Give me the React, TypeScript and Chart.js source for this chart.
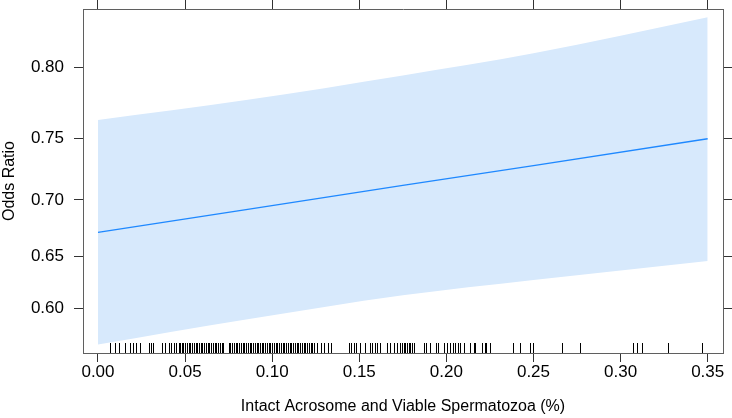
import React, { useEffect, useRef } from "react";
import { Chart, registerables } from "chart.js";

Chart.register(...registerables);

// ---- data ----
const xGrid = [0, 0.085, 0.175, 0.25, 0.35];
const fitValues = [0.6715, 0.6917, 0.7123, 0.7285, 0.7495];
const upperValues = [0.7635, 0.7779, 0.7947, 0.809, 0.8306];
const lowerValues = [0.5644, 0.5892, 0.6129, 0.6276, 0.6455];

const xTickValues = [0, 0.05, 0.1, 0.15, 0.2, 0.25, 0.3, 0.35];
const xTickLabels = ["0.00", "0.05", "0.10", "0.15", "0.20", "0.25", "0.30", "0.35"];
const yTickValues = [0.6, 0.65, 0.7, 0.75, 0.8];
const yTickLabels = ["0.60", "0.65", "0.70", "0.75", "0.80"];

const rugValues = [
  0.007, 0.0095, 0.012, 0.0157, 0.0185, 0.0201, 0.0216, 0.0239, 0.0291, 0.0304, 0.0316,
  0.0367, 0.0386, 0.0405, 0.0419, 0.0434, 0.0449, 0.0463, 0.0472, 0.0482,
  0.049, 0.05, 0.051, 0.052, 0.053, 0.054, 0.055, 0.056, 0.057, 0.058, 0.059, 0.06, 0.061,
  0.062, 0.063, 0.064, 0.065, 0.066, 0.067, 0.068, 0.069, 0.07, 0.071, 0.072, 0.075, 0.076,
  0.077, 0.078, 0.079, 0.08, 0.081, 0.082, 0.083, 0.084, 0.085, 0.086, 0.087, 0.088, 0.089,
  0.09, 0.091, 0.092, 0.093, 0.094, 0.095, 0.096, 0.097, 0.098, 0.099, 0.1, 0.101, 0.102,
  0.103, 0.104, 0.105, 0.106, 0.107, 0.108, 0.109, 0.11, 0.111, 0.112, 0.113, 0.114, 0.115,
  0.116, 0.117, 0.118, 0.119, 0.12, 0.121, 0.122, 0.123, 0.124, 0.126, 0.128, 0.13, 0.132,
  0.134,
  0.1439, 0.1452, 0.1467, 0.1483, 0.1506, 0.1534, 0.1563, 0.1575, 0.159, 0.1602, 0.162,
  0.1659, 0.1678, 0.1697, 0.1716, 0.1731, 0.1745, 0.1754, 0.1764, 0.1773, 0.1783, 0.1789,
  0.1802, 0.1816, 0.187, 0.1885, 0.1904, 0.1942, 0.195, 0.1989, 0.2004, 0.2019, 0.2038,
  0.2052, 0.2065, 0.2077, 0.2103, 0.2138, 0.2157, 0.2167, 0.2205, 0.2219, 0.223, 0.225,
  0.2382, 0.242, 0.2482, 0.2497, 0.2665, 0.2765, 0.3071, 0.3094, 0.3121, 0.327, 0.3467,
];

const X_MIN = -0.0086;
const X_MAX = 0.3588;
const Y_MIN_LOGIT = 0.2248;
const Y_MAX_LOGIT = 1.6236;

const logit = (p: number) => Math.log(p / (1 - p));

const FONT = "'Liberation Sans', Arial, Helvetica, sans-serif";
const BOX = "#5f5f5f";
const TICK = "#333333";

const noPad = (s: any) => {
  s.paddingTop = 0;
  s.paddingBottom = 0;
  s.paddingLeft = 0;
  s.paddingRight = 0;
};

const rugPlugin = {
  id: "rug",
  afterDatasetsDraw(chart: any) {
    const { ctx, chartArea, scales } = chart;
    const xs = scales.x;
    ctx.save();
    ctx.strokeStyle = "#000000";
    ctx.lineWidth = 1;
    ctx.beginPath();
    for (const v of rugValues) {
      const px = Math.round(xs.getPixelForValue(v)) + 0.5;
      ctx.moveTo(px, chartArea.bottom);
      ctx.lineTo(px, chartArea.bottom - 10);
    }
    ctx.stroke();
    ctx.restore();
  },
};

export default function App() {
  const ref = useRef<HTMLCanvasElement | null>(null);

  useEffect(() => {
    document.body.style.margin = "0";
    const canvas = ref.current;
    if (!canvas) return;

    const toPts = (vals: number[]) => xGrid.map((x, i) => ({ x, y: logit(vals[i]) }));

    const chart = new Chart(canvas, {
      type: "line",
      data: {
        datasets: [
          {
            label: "upper",
            data: toPts(upperValues),
            borderWidth: 0,
            borderColor: "rgba(0,0,0,0)",
            backgroundColor: "#D7E9FC",
            pointRadius: 0,
            fill: "+1",
            order: 2,
            cubicInterpolationMode: "monotone",
          },
          {
            label: "lower",
            data: toPts(lowerValues),
            borderWidth: 0,
            borderColor: "rgba(0,0,0,0)",
            backgroundColor: "#D7E9FC",
            pointRadius: 0,
            fill: false,
            order: 2,
            cubicInterpolationMode: "monotone",
          },
          {
            label: "fit",
            data: toPts(fitValues),
            borderWidth: 1.3,
            borderColor: "#1E88FF",
            pointRadius: 0,
            fill: false,
            order: 0,
          },
        ],
      },
      options: {
        animation: false,
        responsive: false,
        maintainAspectRatio: false,
        events: [],
        layout: { padding: 0 },
        plugins: {
          legend: { display: false },
          tooltip: { enabled: false },
        },
        scales: {
          x: {
            type: "linear",
            position: "bottom",
            min: X_MIN,
            max: X_MAX,
            afterBuildTicks: (s: any) => {
              s.ticks = xTickValues.map((v) => ({ value: v }));
            },
            afterFit: (s: any) => {
              s.height = 65;
              noPad(s);
            },
            ticks: {
              callback: (_v: any, i: number) => xTickLabels[i],
              font: { family: FONT, size: 17 },
              color: "#000000",
              padding: 0,
              maxRotation: 0,
              autoSkip: false,
            },
            grid: {
              drawOnChartArea: false,
              drawTicks: true,
              tickLength: 9,
              tickColor: TICK,
            },
            border: { display: true, color: BOX, width: 1 },
            title: {
              display: true,
              text: "Intact Acrosome and Viable Spermatozoa (%)",
              font: { family: FONT, size: 16 },
              color: "#000000",
              padding: { top: 0, bottom: 2 },
            },
          },
          x2: {
            type: "linear",
            position: "top",
            min: X_MIN,
            max: X_MAX,
            afterBuildTicks: (s: any) => {
              s.ticks = xTickValues.map((v) => ({ value: v }));
            },
            afterFit: (s: any) => {
              s.height = 9;
              noPad(s);
            },
            ticks: { display: false },
            grid: {
              drawOnChartArea: false,
              drawTicks: true,
              tickLength: 9,
              tickColor: TICK,
            },
            border: { display: true, color: BOX, width: 1 },
          },
          y: {
            type: "linear",
            position: "left",
            min: Y_MIN_LOGIT,
            max: Y_MAX_LOGIT,
            afterBuildTicks: (s: any) => {
              s.ticks = yTickValues.map((v) => ({ value: logit(v) }));
            },
            afterFit: (s: any) => {
              s.width = 83;
              noPad(s);
            },
            ticks: {
              callback: (_v: any, i: number) => yTickLabels[i],
              font: { family: FONT, size: 17 },
              color: "#000000",
              padding: 10,
              autoSkip: false,
            },
            grid: {
              drawOnChartArea: false,
              drawTicks: true,
              tickLength: 9,
              tickColor: TICK,
            },
            border: { display: true, color: BOX, width: 1 },
            title: {
              display: true,
              text: "Odds Ratio",
              font: { family: FONT, size: 16 },
              color: "#000000",
              padding: { top: 0, bottom: 0 },
            },
          },
          y2: {
            type: "linear",
            position: "right",
            min: Y_MIN_LOGIT,
            max: Y_MAX_LOGIT,
            afterBuildTicks: (s: any) => {
              s.ticks = yTickValues.map((v) => ({ value: logit(v) }));
            },
            afterFit: (s: any) => {
              s.width = 9;
              noPad(s);
            },
            ticks: { display: false },
            grid: {
              drawOnChartArea: false,
              drawTicks: true,
              tickLength: 9,
              tickColor: TICK,
            },
            border: { display: true, color: BOX, width: 1 },
          },
        },
      },
      plugins: [rugPlugin],
    } as any);

    return () => chart.destroy();
  }, []);

  return (
    <div style={{ width: 732, height: 418, position: "relative" }}>
      <canvas ref={ref} width={732} height={418} style={{ display: "block" }} />
    </div>
  );
}
